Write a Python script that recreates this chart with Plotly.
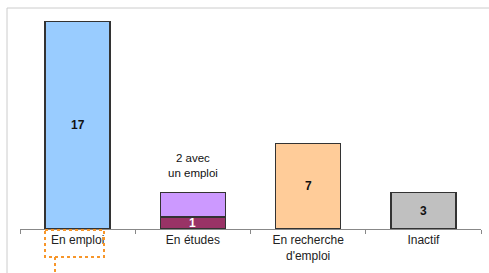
import plotly.graph_objects as go

categories = ["En emploi", "En études", "En recherche<br>d'emploi", "Inactif"]
base_values = [17, 1, 7, 3]
extra_values = [0, 2, 0, 0]
base_labels = ["17", "1", "7", "3"]
extra_note = "2 avec<br>un emploi"

base_colors = ["#99CCFF", "#993366", "#FFCC99", "#C0C0C0"]
label_colors = ["#111111", "#FFFFFF", "#111111", "#111111"]

FONT = "Liberation Sans, Arial"

fig = go.Figure()
fig.add_trace(go.Bar(
    x=categories, y=base_values, width=0.564,
    marker=dict(color=base_colors, line=dict(color="#333333", width=1.5)),
    hoverinfo="skip", showlegend=False))
fig.add_trace(go.Bar(
    x=categories, y=extra_values, width=0.564,
    marker=dict(color="#CC99FF", line=dict(color="#333333", width=1.5)),
    hoverinfo="skip", showlegend=False))

for c, v, t, col in zip(categories, base_values, base_labels, label_colors):
    fig.add_annotation(x=c, y=v / 2, text="<b>%s</b>" % t, showarrow=False,
                       font=dict(family=FONT, size=12, color=col))

top = base_values[1] + extra_values[1]
fig.add_annotation(x=categories[1], y=top, text=extra_note, showarrow=False,
                   yanchor="bottom", yshift=11,
                   font=dict(family=FONT, size=11.5, color="#111111"))

L, R, T, B = 20, 8, 21, 44
W, H = 489, 273
pw, ph = W - L - R, H - T - B

def px(x):
    return (x - L) / pw

def py(y):
    return (H - B - y) / ph

shapes = [
    dict(type="line", xref="paper", yref="paper", x0=px(7), x1=px(489), y0=py(8), y1=py(8),
         line=dict(color="#CCCCCC", width=1)),
    dict(type="line", xref="paper", yref="paper", x0=px(7), x1=px(7), y0=py(8), y1=py(273),
         line=dict(color="#CCCCCC", width=1)),
    dict(type="rect", xref="paper", yref="paper", x0=px(45), x1=px(104), y0=py(230), y1=py(257),
         line=dict(color="#F7962A", width=2, dash="dot")),
    dict(type="line", xref="paper", yref="paper", x0=px(55), x1=px(55), y0=py(257), y1=py(273),
         line=dict(color="#F7962A", width=2, dash="dot")),
]

fig.update_layout(
    width=W, height=H, barmode="stack", bargap=0.436,
    margin=dict(l=L, r=R, t=T, b=B, pad=0, autoexpand=False),
    paper_bgcolor="white", plot_bgcolor="white",
    shapes=shapes,
    xaxis=dict(type="category", range=[-0.5, 3.5], showline=True, linecolor="#888888", linewidth=1,
               ticks="outside", tickson="boundaries", ticklen=4, tickcolor="#888888", automargin=False,
               showgrid=False, tickfont=dict(family=FONT, size=12, color="#222222")),
    yaxis=dict(range=[0, 17], visible=False, showgrid=False, zeroline=False, automargin=False),
)

fig.write_html("out.html", config={"displayModeBar": False},
               post_script="document.body.style.margin='0px';document.body.style.overflow='hidden';")
